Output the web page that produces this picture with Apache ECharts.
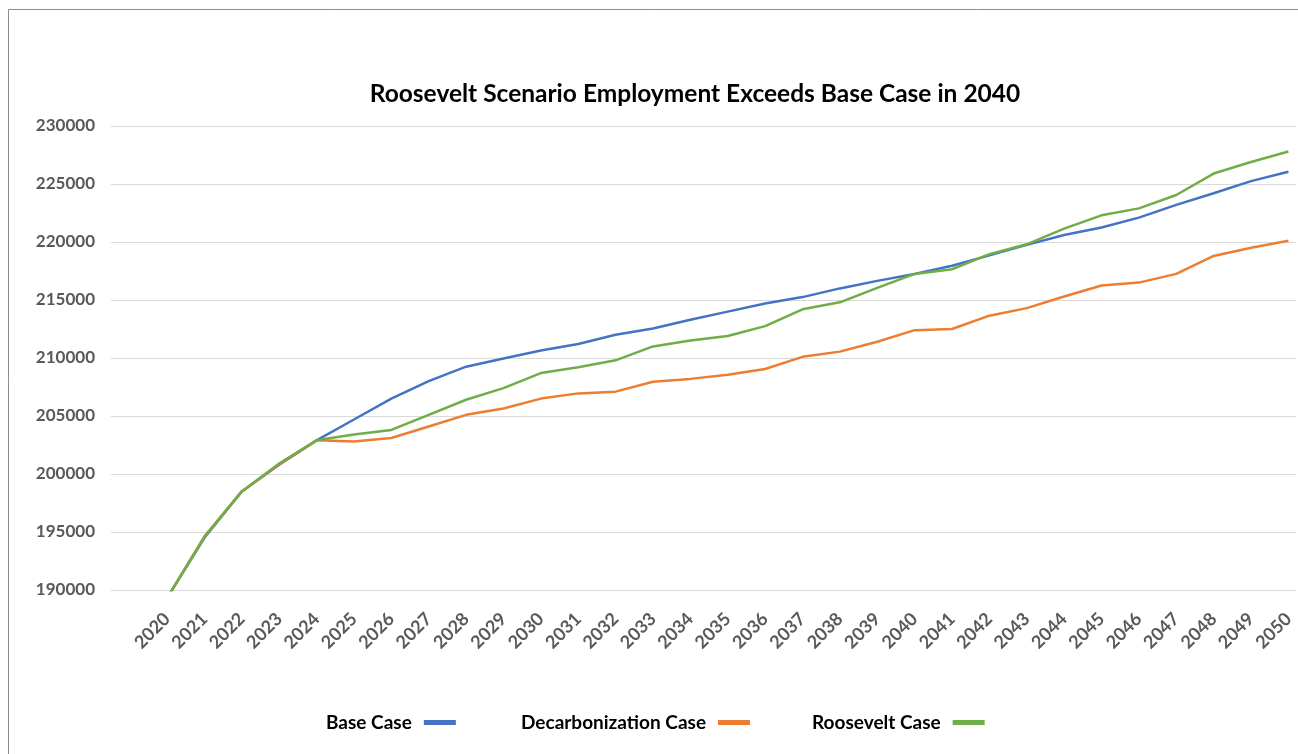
<!DOCTYPE html>
<html>
<head>
<meta charset="utf-8">
<title>Roosevelt Scenario Employment</title>
<script src="https://cdn.jsdelivr.net/npm/echarts@6/dist/echarts.min.js"></script>
<style>
  html, body { margin: 0; padding: 0; background: #fff; }
  #chart { width: 1298px; height: 754px; }
</style>
</head>
<body>
<div id="chart"></div>
<script>
// 年份和三条线的数据
const years = [2020, 2021, 2022, 2023, 2024, 2025, 2026, 2027, 2028, 2029, 2030,
  2031, 2032, 2033, 2034, 2035, 2036, 2037, 2038, 2039, 2040,
  2041, 2042, 2043, 2044, 2045, 2046, 2047, 2048, 2049, 2050];
const baseCase = [189300, 194500, 198500, 200800, 202900, 204700, 206500, 208000, 209250, 209950, 210650,
  211200, 212000, 212550, 213300, 214000, 214700, 215250, 216000, 216650, 217250,
  217950, 218850, 219750, 220600, 221250, 222100, 223200, 224200, 225250, 226050];
const decarbCase = [189300, 194600, 198500, 200850, 202900, 202800, 203100, 204100, 205100, 205650, 206500,
  206950, 207100, 207950, 208200, 208550, 209050, 210100, 210550, 211400, 212400,
  212500, 213650, 214300, 215300, 216250, 216500, 217250, 218800, 219500, 220100];
const rooseveltCase = [189300, 194600, 198500, 200900, 202900, 203400, 203800, 205100, 206400, 207400, 208700,
  209200, 209800, 211000, 211500, 211900, 212750, 214200, 214800, 216050, 217250,
  217650, 218950, 219800, 221150, 222300, 222900, 224050, 225900, 226900, 227800];

const fontFamily = 'Lato, "Open Sans", sans-serif';

function pairs(values) {
  return years.map((y, i) => [y, values[i]]);
}

const chart = echarts.init(document.getElementById('chart'));

// 每个图例单独放，文字在左、色块在右
function legendAt(name, left) {
  return {
    data: [name],
    left: left,
    top: 708,
    align: 'right',
    icon: 'rect',
    itemWidth: 32,
    itemHeight: 5,
    textStyle: { color: '#000', fontFamily: fontFamily, fontWeight: 'bold', fontSize: 19, padding: [0, 7, 0, 0] }
  };
}

let option = {
  animation: false,
  color: ['#4472C4', '#ED7D31', '#70AD47'],
  title: {
    text: 'Roosevelt Scenario Employment Exceeds Base Case in 2040',
    left: 690,
    textAlign: 'center',
    top: 77,
    textStyle: { color: '#000', fontFamily: fontFamily, fontWeight: 'bold', fontSize: 24.5 }
  },
  legend: [
    legendAt('Base Case', 321),
    legendAt('Decarbonization Case', 516),
    legendAt('Roosevelt Case', 807)
  ],
  grid: { left: 111, right: 0, top: 126, bottom: 164, containLabel: false },
  xAxis: {
    type: 'value',
    min: 2018.5,
    max: 2050.2,
    interval: 0.5,
    axisLine: { show: true, lineStyle: { color: '#d9d9d9', width: 1 } },
    axisTick: { show: false },
    splitLine: { show: false },
    axisLabel: {
      rotate: 45,
      margin: 26,
      color: '#595959',
      fontFamily: fontFamily,
      fontWeight: 'bold',
      fontSize: 18,
      showMinLabel: true,
      showMaxLabel: true,
      formatter: function (v) {
        return (Number.isInteger(v) && v >= 2020 && v <= 2050) ? String(v) : '';
      }
    }
  },
  yAxis: {
    type: 'value',
    min: 190000,
    max: 230000,
    interval: 5000,
    axisLine: { show: false },
    axisTick: { show: false },
    splitLine: { lineStyle: { color: '#d9d9d9', width: 1 } },
    axisLabel: {
      margin: 16,
      color: '#595959',
      fontFamily: fontFamily,
      fontWeight: 'bold',
      fontSize: 17,
      formatter: function (v) { return String(v); }
    }
  },
  graphic: [{
    type: 'rect',
    shape: { x: 8.5, y: 9.5, width: 1400, height: 800 },
    style: { fill: 'none', stroke: '#8c8c8c', lineWidth: 1 },
    silent: true
  }],
  series: [
    { name: 'Base Case', type: 'line', data: pairs(baseCase) },
    { name: 'Decarbonization Case', type: 'line', data: pairs(decarbCase) },
    { name: 'Roosevelt Case', type: 'line', data: pairs(rooseveltCase) }
  ].map(s => Object.assign(s, {
    showSymbol: false,
    symbol: 'none',
    clip: true,
    lineStyle: { width: 2.5 },
    z: 3
  }))
};

chart.setOption(option);
window.addEventListener('resize', function () {
  chart.resize();
});
</script>
</body>
</html>
